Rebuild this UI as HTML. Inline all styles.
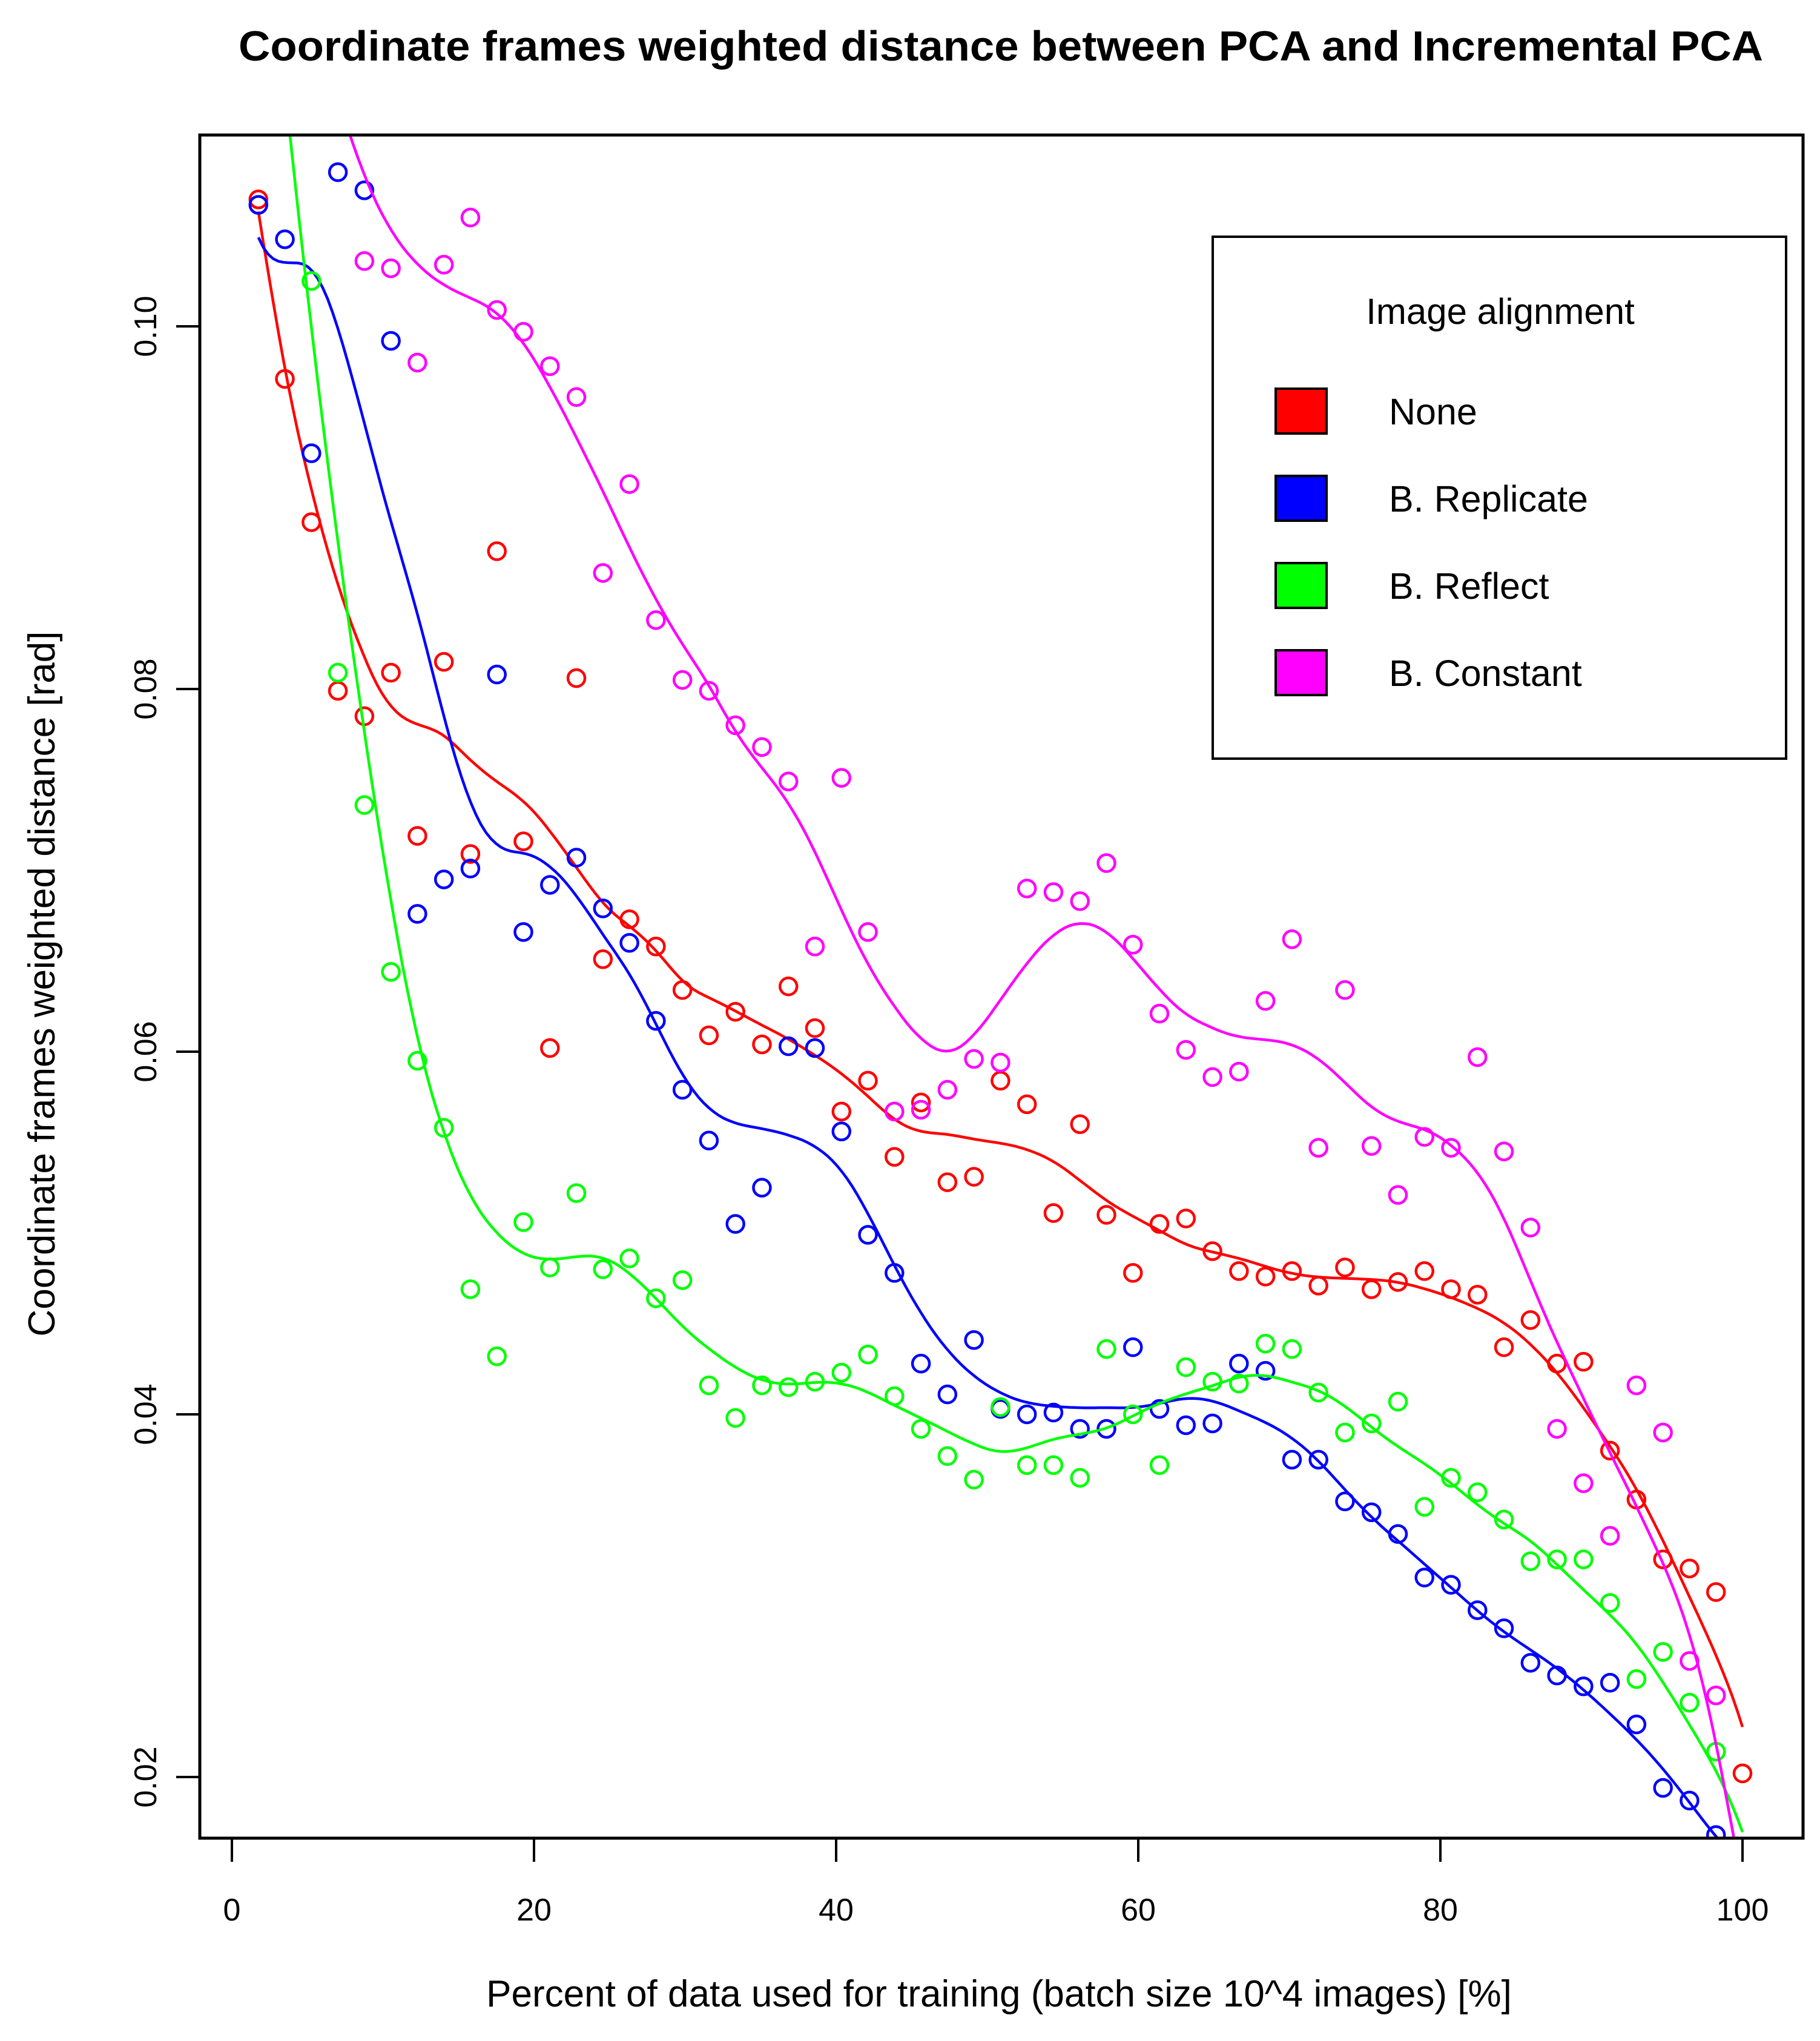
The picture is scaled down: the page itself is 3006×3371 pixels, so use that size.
<!DOCTYPE html>
<html><head><meta charset="utf-8"><style>html,body{margin:0;padding:0;background:#fff}svg{display:block}</style></head>
<body>
<svg id="chart" xmlns="http://www.w3.org/2000/svg" width="3006" height="3371" viewBox="0 0 3006 3371" font-family="Liberation Sans, sans-serif">
<rect width="3006" height="3371" fill="#fff"/>
<text x="1653" y="100" text-anchor="middle" font-size="70" font-weight="bold" textLength="2518" lengthAdjust="spacingAndGlyphs">Coordinate frames weighted distance between PCA and Incremental PCA</text>
<defs><clipPath id="plotclip"><rect x="330" y="223" width="2648" height="2813"/></clipPath></defs>
<g id="marks" clip-path="url(#plotclip)"></g>
<rect x="330" y="223" width="2648" height="2813" fill="none" stroke="#000" stroke-width="5"/>
<g id="axes"></g>
<text x="1650" y="3314" text-anchor="middle" font-size="62">Percent of data used for training (batch size 10^4 images) [%]</text>
<text transform="translate(90,1625) rotate(-90)" text-anchor="middle" font-size="62">Coordinate frames weighted distance [rad]</text>
<g>
<rect x="2003" y="391" width="947" height="862" fill="#fff" stroke="#000" stroke-width="4"/>
<text x="2478" y="535" text-anchor="middle" font-size="60">Image alignment</text>
<g id="legend-entries"></g>
</g>
</svg>
<script>
const xTicks = [0, 20, 40, 60, 80, 100];
const yTicks = [0.02, 0.04, 0.06, 0.08, 0.10];
const yTickLabels = ["0.02", "0.04", "0.06", "0.08", "0.10"];
const seriesNames = ["None", "B. Replicate", "B. Reflect", "B. Constant"];
const seriesColors = ["#ff0000", "#0000ff", "#00ff00", "#ff00ff"];
const pointCount = 57;
const valsNone = [0.1070,0.0971,0.0892,0.0799,0.0785,0.0809,0.0719,0.0815,0.0709,0.0876,0.0716,0.0602,0.0806,0.0651,0.0673,0.0658,0.0634,0.0609,0.0622,0.0604,0.0636,0.0613,0.0567,0.0584,0.0542,0.0572,0.0528,0.0531,0.0584,0.0571,0.0511,0.0560,0.0510,0.0478,0.0505,0.0508,0.0490,0.0479,0.0476,0.0479,0.0471,0.0481,0.0469,0.0473,0.0479,0.0469,0.0466,0.0437,0.0452,0.0428,0.0429,0.0380,0.0353,0.0320,0.0315,0.0302,0.0202];
const valsReplicate = [0.1067,0.1048,0.0930,0.1085,0.1075,0.0992,0.0676,0.0695,0.0701,0.0808,0.0666,0.0692,0.0707,0.0679,0.0660,0.0617,0.0579,0.0551,0.0505,0.0525,0.0603,0.0602,0.0556,0.0499,0.0478,0.0428,0.0411,0.0441,0.0403,0.0400,0.0401,0.0392,0.0392,0.0437,0.0403,0.0394,0.0395,0.0428,0.0424,0.0375,0.0375,0.0352,0.0346,0.0334,0.0310,0.0306,0.0292,0.0282,0.0263,0.0256,0.0250,0.0252,0.0229,0.0194,0.0187,0.0168,0.0150];
const valsReflect = [0.1250,0.1150,0.1025,0.0809,0.0736,0.0644,0.0595,0.0558,0.0469,0.0432,0.0506,0.0481,0.0522,0.0480,0.0486,0.0464,0.0474,0.0416,0.0398,0.0416,0.0415,0.0418,0.0423,0.0433,0.0410,0.0392,0.0377,0.0364,0.0404,0.0372,0.0372,0.0365,0.0436,0.0400,0.0372,0.0426,0.0418,0.0417,0.0439,0.0436,0.0412,0.0390,0.0395,0.0407,0.0349,0.0365,0.0357,0.0342,0.0319,0.0320,0.0320,0.0296,0.0254,0.0269,0.0241,0.0214,0.0160];
const valsConstant = [0.1300,0.1250,0.1180,0.1120,0.1036,0.1032,0.0980,0.1034,0.1060,0.1009,0.0997,0.0978,0.0961,0.0864,0.0913,0.0838,0.0805,0.0799,0.0780,0.0768,0.0749,0.0658,0.0751,0.0666,0.0567,0.0568,0.0579,0.0596,0.0594,0.0690,0.0688,0.0683,0.0704,0.0659,0.0621,0.0601,0.0586,0.0589,0.0628,0.0662,0.0547,0.0634,0.0548,0.0521,0.0553,0.0547,0.0597,0.0545,0.0503,0.0392,0.0362,0.0333,0.0416,0.0390,0.0264,0.0245,0.0130];
const allSeries = [valsNone, valsReplicate, valsReflect, valsConstant];

const NS = "http://www.w3.org/2000/svg";
function xScale(v){ return 383 + (v/100)*(2878-383); }
function yScale(v){ return 2935 - (v-0.02)/0.08*(2935-539); }
function mk(tag, attrs, parent){ const e=document.createElementNS(NS,tag); for(const k in attrs) e.setAttribute(k,attrs[k]); parent.appendChild(e); return e; }
const xs = []; for(let i=1;i<=pointCount;i++) xs.push(i*100/pointCount);

function smooth(ys, x0){
  const h = 8.5; let sw=0,sx=0,sy=0,sxx=0,sxy=0;
  for(let i=0;i<xs.length;i++){ const d=Math.abs(xs[i]-x0)/h; if(d>=1) continue; const w=Math.pow(1-d*d*d,3);
    sw+=w; sx+=w*xs[i]; sy+=w*ys[i]; sxx+=w*xs[i]*xs[i]; sxy+=w*xs[i]*ys[i]; }
  const mx=sx/sw,my=sy/sw,vx=sxx/sw-mx*mx,cxy=sxy/sw-mx*my;
  return vx>1e-9 ? my+cxy/vx*(x0-mx) : my;
}

const axes = document.getElementById("axes");
xTicks.forEach(t=>{
  const l = mk("line",{x1:xScale(t),x2:xScale(t),y1:3036,y2:3075,stroke:"#000","stroke-width":4},axes);
  
  
  const tx = mk("text",{x:xScale(t),y:3172,"text-anchor":"middle","font-size":52},axes);
  
  
  tx.textContent = String(t);
});
yTicks.forEach((t,i)=>{
  const l = mk("line",{x1:291,x2:330,y1:yScale(t),y2:yScale(t),stroke:"#000","stroke-width":4},axes);
  
  
  const tx = mk("text",{transform:`translate(258,${yScale(t)}) rotate(-90)`,"text-anchor":"middle","font-size":52},axes);
  
  
  tx.textContent = yTickLabels[i];
});

const marks = document.getElementById("marks");
allSeries.forEach((ys,s)=>{
  const g = mk("g",{},marks);
  
  
  let d=""; const steps=300;
  for(let k=0;k<=steps;k++){ const xv = xs[0]+(xs[xs.length-1]-xs[0])*k/steps; const yv=smooth(ys,xv);
    d += (k?"L":"M")+xScale(xv).toFixed(1)+","+yScale(yv).toFixed(1); }
  const p = mk("path",{d:d,fill:"none",stroke:seriesColors[s],"stroke-width":4.5},g);
  
  
  ys.forEach((v,i)=>{
    const c = mk("circle",{cx:xScale(xs[i]),cy:yScale(v),r:14,fill:"none",stroke:seriesColors[s],"stroke-width":4.5},g);
    
    
  });
});

const le = document.getElementById("legend-entries");
seriesNames.forEach((n,i)=>{
  const cy = 679 + i*144;
  const r = mk("rect",{x:2107,y:cy-37,width:84,height:74,fill:seriesColors[i],stroke:"#000","stroke-width":4},le);
  
  
  const t = mk("text",{x:2294,y:cy+22,"font-size":61},le);
  
  
  t.textContent = n;
});
</script>
</body></html>
